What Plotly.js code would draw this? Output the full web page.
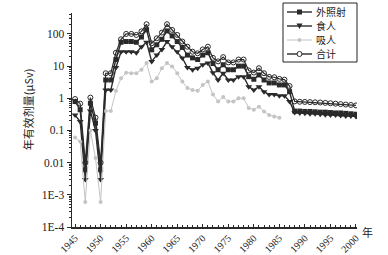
<!DOCTYPE html>
<html>
<head>
<meta charset="utf-8">
<script src="https://cdn.plot.ly/plotly-3.0.1.min.js"></script>
<style>html,body{margin:0;padding:0;background:#fff;}#chart{width:388px;height:255px;}</style>
</head>
<body>
<div id="chart"></div>
<script>
const years = [];
for (let y = 1945; y <= 2000; y++) years.push(y);

const externalDose = [0.79,0.44,0.006,0.7,0.17,0.006,3.7,3.7,16,55,58,58,55,80,135,32,46,68,124,87,58,38,22,18,16,22,26,12,7.7,11,7.7,7.7,10,10,4.7,3.9,5.3,3.7,3.0,3.0,2.6,2.6,1.6,
  0.40,0.40,0.39,0.39,0.38,0.37,0.37,0.36,0.35,0.35,0.34,0.33,0.32];
const ingestionDose = [0.3,0.19,0.003,0.4,0.1,0.003,1.8,1.8,9,28,28,28,26,40,55,14,22,33,58,40,28,18,9,7.7,8.6,11,12.5,6.2,3.7,6,3.7,3.7,4.7,4.7,2.3,1.8,2.3,1.6,1.3,1.3,1.2,1.2,0.8,
  0.36,0.35,0.34,0.33,0.33,0.32,0.31,0.30,0.30,0.29,0.28,0.28,0.27];
const inhalationYears = years.slice(0, 41);
const inhalationDose = [0.06,0.045,0.0006,0.1,0.014,0.0006,0.4,0.4,1.7,4.2,6.2,6,6,7.7,12.5,3.3,4.2,8.6,12.5,9.7,6,3.3,2.1,1.8,1.7,2.6,3.3,1.3,0.8,1.1,0.8,0.8,1.0,1.0,0.5,0.44,0.55,0.39,0.3,0.27,0.25];
const totalDose = [0.95,0.68,0.01,1.05,0.25,0.01,6,6,26,68,100,100,93,120,200,51,73,110,200,133,93,58,40,28,25,33,40,18,14,19,13,13,16,16,7.3,6.3,8.6,6,4.6,4.5,4.0,3.8,2.4,
  0.8,0.78,0.77,0.76,0.75,0.74,0.72,0.70,0.68,0.66,0.64,0.62,0.60];

const seriesNames = ['外照射','食人','吸人','合计'];
const yTickVals = [1e-4,1e-3,0.01,0.1,1,10,100];
const yTickText = ['1E-4','1E-3','0.01','0.1','1','10','100'];
const xTickVals = [1945,1950,1955,1960,1965,1970,1975,1980,1985,1990,1995,2000];

const dark = '#2a2a2a';
const light = '#c4c4c4';

const traces = [
  {x: years, y: externalDose, name: seriesNames[0], mode: 'lines+markers',
   line: {color: dark, width: 1.4}, marker: {symbol: 'square', size: 5, color: dark}},
  {x: years, y: ingestionDose, name: seriesNames[1], mode: 'lines+markers',
   line: {color: dark, width: 1.4}, marker: {symbol: 'triangle-down', size: 6, color: dark}},
  {x: inhalationYears, y: inhalationDose, name: seriesNames[2], mode: 'lines+markers',
   line: {color: light, width: 1}, marker: {symbol: 'circle', size: 4, color: light}},
  {x: years, y: totalDose, name: seriesNames[3], mode: 'lines+markers',
   line: {color: dark, width: 1.2}, marker: {symbol: 'circle-open', size: 5, color: dark, line: {width: 1}}}
];

const minorY = [];
for (let e = -4; e <= 2; e++) for (let m = 2; m <= 9; m++) { const v = m * Math.pow(10, e); if (v < 450) minorY.push(v); }
const minorX = [];
for (let y = 1945; y <= 2000; y++) minorX.push(y);

// compact legend like the reference, pixel -> paper coords
const M = {l: 72, r: 31, t: 13, b: 28};
const PW = 388 - M.l - M.r, PH = 255 - M.t - M.b;
const px = v => (v - M.l) / PW;
const py = v => (255 - M.b - v) / PH;
const shapes = [];
const annotations = [];
shapes.push({type: 'rect', xref: 'paper', yref: 'paper', x0: px(283), x1: px(357), y0: py(62), y1: py(3),
  line: {color: '#222', width: 1}, fillcolor: '#fff', layer: 'above'});
const legendStyle = [
  {color: dark, sym: 'square'}, {color: dark, sym: 'tri'}, {color: light, sym: 'dot'}, {color: dark, sym: 'open'}
];
seriesNames.forEach((name, i) => {
  const cy = 12 + i * 14;
  const st = legendStyle[i];
  shapes.push({type: 'line', xref: 'paper', yref: 'paper', x0: px(287), x1: px(312), y0: py(cy), y1: py(cy),
    line: {color: st.color, width: i === 2 ? 1 : 1.4}, layer: 'above'});
  const mx = 299.5;
  if (st.sym === 'square') {
    shapes.push({type: 'rect', xref: 'paper', yref: 'paper', x0: px(mx - 2.5), x1: px(mx + 2.5), y0: py(cy + 2.5), y1: py(cy - 2.5),
      line: {color: st.color, width: 0}, fillcolor: st.color, layer: 'above'});
  } else if (st.sym === 'tri') {
    shapes.push({type: 'path', xref: 'paper', yref: 'paper',
      path: `M ${px(mx - 3)} ${py(cy - 2.5)} L ${px(mx + 3)} ${py(cy - 2.5)} L ${px(mx)} ${py(cy + 3)} Z`,
      line: {color: st.color, width: 0}, fillcolor: st.color, layer: 'above'});
  } else if (st.sym === 'dot') {
    shapes.push({type: 'circle', xref: 'paper', yref: 'paper', x0: px(mx - 2), x1: px(mx + 2), y0: py(cy + 2), y1: py(cy - 2),
      line: {color: st.color, width: 0}, fillcolor: st.color, layer: 'above'});
  } else {
    shapes.push({type: 'circle', xref: 'paper', yref: 'paper', x0: px(mx - 2.5), x1: px(mx + 2.5), y0: py(cy + 2.5), y1: py(cy - 2.5),
      line: {color: st.color, width: 1}, fillcolor: '#fff', layer: 'above'});
  }
  annotations.push({text: name, xref: 'paper', yref: 'paper', x: px(315), y: py(cy), xanchor: 'left', yanchor: 'middle',
    showarrow: false, borderpad: 0, font: {family: 'Noto Sans CJK SC', size: 10, color: '#222'}});
});

annotations.push(
  {text: '年有效剂量(μSv)', xref: 'paper', yref: 'paper', x: -0.19, y: 0.55,
   textangle: -90, showarrow: false, font: {family: 'Noto Sans CJK SC', size: 11, color: '#222'}},
  {text: '年', xref: 'paper', yref: 'paper', x: px(368), y: py(232), xanchor: 'center', yanchor: 'middle',
   showarrow: false, font: {family: 'Noto Sans CJK SC', size: 11, color: '#222'}}
);

const layout = {
  width: 388, height: 255,
  margin: {l: M.l, r: M.r, t: M.t, b: M.b},
  paper_bgcolor: '#fff', plot_bgcolor: '#fff',
  showlegend: false,
  xaxis: {range: [1944.4, 2000.2], tickvals: xTickVals, tickangle: -45,
    showgrid: false, zeroline: false, showline: true, linecolor: dark, linewidth: 1.5,
    ticks: 'inside', ticklen: 3, tickcolor: dark,
    minor: {tickvals: minorX, ticks: 'inside', ticklen: 2, tickcolor: dark, showgrid: false},
    tickfont: {family: 'Liberation Serif', size: 10, color: '#222'}},
  yaxis: {type: 'log', range: [-4, 2.65], tickvals: yTickVals, ticktext: yTickText,
    showgrid: false, zeroline: false, showline: true, linecolor: dark, linewidth: 1.5,
    ticks: 'outside', ticklen: 4, tickcolor: dark,
    minor: {tickvals: minorY, ticks: 'outside', ticklen: 2, tickcolor: dark, showgrid: false},
    tickfont: {family: 'Liberation Serif', size: 11.5, color: '#222'}},
  shapes: shapes,
  annotations: annotations
};

Plotly.newPlot('chart', traces, layout, {displayModeBar: false, staticPlot: true});
</script>
</body>
</html>
